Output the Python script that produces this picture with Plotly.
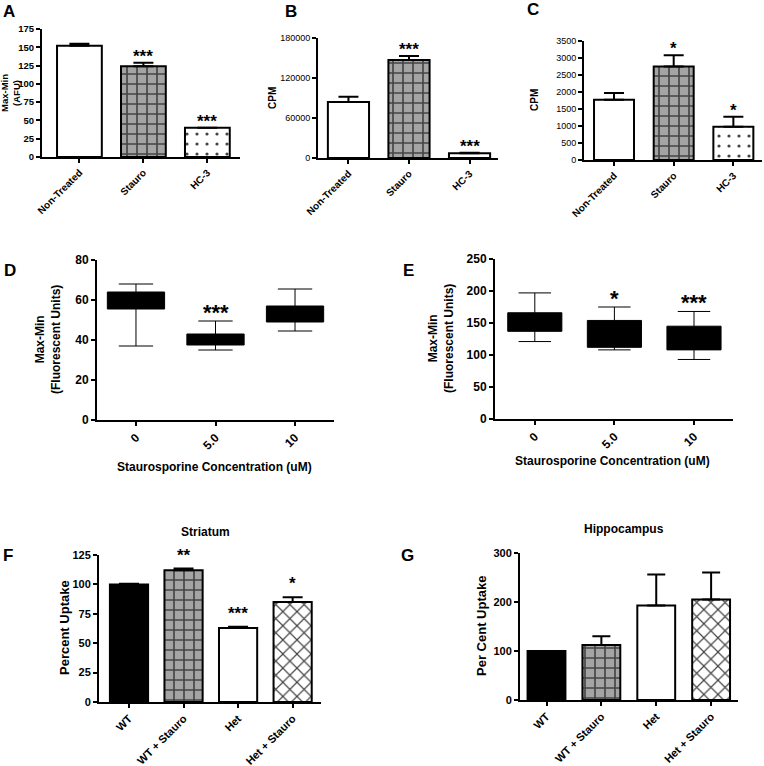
import plotly.graph_objects as go

W, H = 764, 766

# ---- data ----
A_cats = ["Non-Treated", "Stauro", "HC-3"]
A_vals = [152, 124, 40]
A_err = [3, 5, 0]
A_sig = ["", "***", "***"]
A_fill = ["open", "grid", "dots"]

B_cats = ["Non-Treated", "Stauro", "HC-3"]
B_vals = [84000, 147000, 7000]
B_err = [8000, 6000, 1000]
B_sig = ["", "***", "***"]
B_fill = ["open", "grid", "open"]

C_cats = ["Non-Treated", "Stauro", "HC-3"]
C_vals = [1770, 2750, 980]
C_err = [200, 330, 290]
C_sig = ["", "*", "*"]
C_fill = ["open", "grid", "dots"]

D_cats = ["0", "5.0", "10"]
D_low = [37, 35, 44.5]
D_q1 = [55.5, 37.5, 49]
D_med = [59, 40, 53]
D_q3 = [64, 43, 57]
D_high = [68, 49.5, 65.5]
D_sig = ["", "***", ""]

E_cats = ["0", "5.0", "10"]
E_low = [121, 108, 93]
E_q1 = [137, 112, 108]
E_med = [150, 135, 127]
E_q3 = [166, 154, 145]
E_high = [197, 175, 168]
E_sig = ["", "*", "***"]

F_cats = ["WT", "WT + Stauro", "Het", "Het + Stauro"]
F_vals = [100, 112, 63, 85]
F_err = [0.5, 1.5, 1, 4]
F_sig = ["", "**", "***", "*"]
F_fill = ["solid", "grid", "open", "cross"]

G_cats = ["WT", "WT + Stauro", "Het", "Het + Stauro"]
G_vals = [100, 112, 193, 205]
G_err = [0, 18, 63, 55]
G_fill = ["solid", "grid", "open", "cross"]

FONT = "Arial, Liberation Sans, sans-serif"

STYLES = {
    "open": dict(bg="white", shape="", fg="black", size=8, sol=0.2),
    "solid": dict(bg="black", shape="", fg="black", size=8, sol=0.2),
    "grid": dict(bg="#a4a4a4", shape="+", fg="white", size=10, sol=0.3),
    "dots": dict(bg="white", shape=".", fg="black", size=10, sol=0.08),
    "cross": dict(bg="white", shape="x", fg="black", size=10, sol=0.22),
}


def dom_x(a, b):
    return [a / W, b / W]


def dom_y(top, bottom):
    return [1 - bottom / H, 1 - top / H]


def bar_trace(cats, vals, errs, fills, n, width, capw):
    st = [STYLES[f] for f in fills]
    return go.Bar(
        x=cats, y=vals, width=width,
        xaxis="x" + n, yaxis="y" + n,
        marker=dict(color=[s["bg"] for s in st],
                    line=dict(color="black", width=2),
                    pattern=dict(shape=[s["shape"] for s in st],
                                 bgcolor=[s["bg"] for s in st],
                                 fgcolor=[s["fg"] for s in st],
                                 fgopacity=1,
                                 size=[s["size"] for s in st],
                                 solidity=[s["sol"] for s in st])),
        error_y=dict(type="data", symmetric=False, array=errs,
                     arrayminus=[0] * len(errs), color="black",
                     thickness=2, width=capw),
        showlegend=False)


def box_trace(cats, low, q1, med, q3, high, n, width):
    return go.Box(x=cats, lowerfence=low, q1=q1, median=med, q3=q3,
                  upperfence=high, xaxis="x" + n, yaxis="y" + n,
                  fillcolor="black", line=dict(color="black", width=1),
                  width=width, whiskerwidth=0.6, boxpoints=False,
                  showlegend=False)


fig = go.Figure()
fig.add_trace(bar_trace(A_cats, A_vals, A_err, A_fill, "", 0.70, 10))
fig.add_trace(bar_trace(B_cats, B_vals, B_err, B_fill, "2", 0.68, 10))
fig.add_trace(bar_trace(C_cats, C_vals, C_err, C_fill, "3", 0.67, 10))
fig.add_trace(box_trace(D_cats, D_low, D_q1, D_med, D_q3, D_high, "4", 0.72))
fig.add_trace(box_trace(E_cats, E_low, E_q1, E_med, E_q3, E_high, "5", 0.68))
fig.add_trace(bar_trace(F_cats, F_vals, F_err, F_fill, "6", 0.70, 10))
fig.add_trace(bar_trace(G_cats, G_vals, G_err, G_fill, "7", 0.69, 9))


def xax(px, anchor, rng, size, bold=True):
    return dict(domain=dom_x(*px), anchor=anchor, type="category", range=rng,
                automargin=False,
                showline=True, linecolor="black", linewidth=2,
                ticks="outside", ticklen=4, tickwidth=2, tickcolor="black",
                tickangle=-45, showgrid=False, zeroline=False,
                tickfont=dict(family=FONT, size=size, color="black",
                              weight="bold" if bold else "normal"))


def yax(py, anchor, rng, dtick, size, bold=True):
    return dict(domain=dom_y(*py), anchor=anchor, range=rng, dtick=dtick,
                automargin=False, tickformat="d",
                showline=True, linecolor="black", linewidth=2,
                ticks="outside", ticklen=4, tickwidth=2, tickcolor="black",
                showgrid=False, zeroline=False,
                tickfont=dict(family=FONT, size=size, color="black",
                              weight="bold" if bold else "normal"))


fig.update_layout(
    width=W, height=H, margin=dict(l=0, r=0, t=0, b=0, autoexpand=False),
    paper_bgcolor="white", plot_bgcolor="white",
    font=dict(family=FONT, color="black"),
    xaxis=xax((42, 240), "y", [-0.585, 2.51], 10),
    yaxis=yax((29, 157), "x", [0, 175], 25, 9.5),
    xaxis2=xax((318, 498), "y2", [-0.503, 2.47], 10),
    yaxis2=yax((38, 158), "x2", [0, 180000], 60000, 9, bold=False),
    xaxis3=xax((584, 762), "y3", [-0.503, 2.48], 10),
    yaxis3=yax((41, 160), "x3", [0, 3500], 500, 9, bold=False),
    xaxis4=xax((97, 334), "y4", [-0.49, 2.49], 12),
    yaxis4=yax((260, 420), "x4", [0, 80], 20, 12),
    xaxis5=xax((495, 733), "y5", [-0.50, 2.49], 12),
    yaxis5=yax((259, 419), "x5", [0, 250], 50, 12),
    xaxis6=xax((99, 321), "y6", [-0.55, 3.52], 11),
    yaxis6=yax((555, 702), "x6", [0, 125], 25, 11),
    xaxis7=xax((520, 738), "y7", [-0.483, 3.49], 11),
    yaxis7=yax((553, 700), "x7", [0, 300], 100, 11),
)

anns = []


def paper_text(text, px, py, size, angle=0, bold=True):
    anns.append(dict(text=f"<b>{text}</b>" if bold else text,
                     x=px / W, y=1 - py / H, xref="paper", yref="paper",
                     showarrow=False, textangle=angle,
                     xanchor="center", yanchor="middle",
                     font=dict(family=FONT, size=size, color="black")))


# panel letters
for letter, px, py in [("A", 9, 11), ("B", 291, 11), ("C", 533, 10),
                       ("D", 10, 271), ("E", 408, 271),
                       ("F", 8, 555), ("G", 407, 555)]:
    paper_text(letter, px, py, 17)

# axis titles
paper_text("Max-Min<br>(AFU)", 10, 93, 9.5, -90)
paper_text("CPM", 273, 98, 10, -90)
paper_text("CPM", 535, 100, 10, -90)
paper_text("Max-Min<br>(Fluorescent Units)", 48, 340, 12, -90)
paper_text("Max-Min<br>(Fluorescent Units)", 441, 339, 12, -90)
paper_text("Staurosporine Concentration (uM)", 214, 467, 12)
paper_text("Staurosporine Concentration (uM)", 612, 461, 12)
paper_text("Percent Uptake", 64, 628, 13, -90)
paper_text("Per Cent Uptake", 481, 626, 13, -90)
paper_text("Striatum", 205, 532, 12)
paper_text("Hippocampus", 624, 529, 12)


def sig_marks(tops, sigs, n, size, shift):
    for i, (t, s) in enumerate(zip(tops, sigs)):
        if s:
            anns.append(dict(text=f"<b>{s}</b>", x=i, y=t,
                             xref="x" + n, yref="y" + n, showarrow=False,
                             xanchor="center", yanchor="bottom", yshift=shift,
                             font=dict(family=FONT, size=size, color="black")))


sig_marks([v + e for v, e in zip(A_vals, A_err)], A_sig, "", 17, -5)
sig_marks([v + e for v, e in zip(B_vals, B_err)], B_sig, "2", 17, -5)
sig_marks([v + e for v, e in zip(C_vals, C_err)], C_sig, "3", 17, -5)
sig_marks(D_high, D_sig, "4", 22, -6)
sig_marks(E_high, E_sig, "5", 22, -6)
sig_marks([v + e for v, e in zip(F_vals, F_err)], F_sig, "6", 17, 2)

fig.update_layout(annotations=anns)

fig.write_html("out.html", config={"displayModeBar": False},
               post_script="document.body.style.margin='0';")
